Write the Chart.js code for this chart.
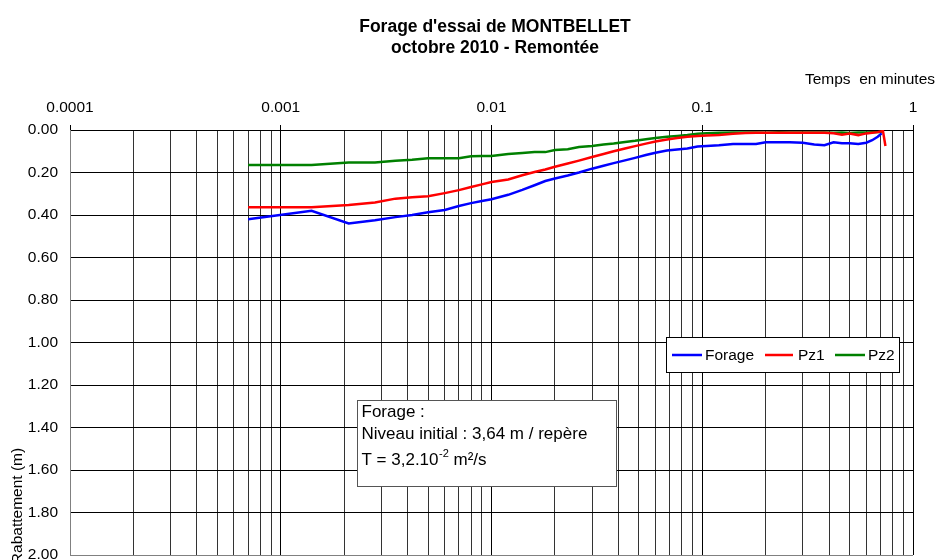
<!DOCTYPE html>
<html>
<head>
<meta charset="utf-8">
<script src="https://cdn.jsdelivr.net/npm/chart.js@4.4.1/dist/chart.umd.min.js"></script>
<style>
  body { margin: 0; background: #fff; }
</style>
</head>
<body>
<canvas id="myChart" width="937" height="560"></canvas>
<script>
// time since pump stop (minutes)
const times = [0.0007, 0.0014, 0.0021, 0.0028, 0.0035, 0.0042, 0.005, 0.006, 0.007, 0.008,
  0.009, 0.010, 0.012, 0.014, 0.016, 0.018, 0.020, 0.023, 0.026, 0.030,
  0.034, 0.038, 0.043, 0.048, 0.054, 0.060, 0.068, 0.076, 0.085, 0.095,
  0.105, 0.12, 0.14, 0.16, 0.18, 0.20, 0.23, 0.26, 0.30, 0.34,
  0.38, 0.42, 0.46, 0.50, 0.55, 0.60, 0.64, 0.68, 0.71, 0.72, 0.74];

// drawdown (m)
const forage = [0.42, 0.38, 0.44, 0.425, 0.41, 0.40, 0.387, 0.376, 0.358, 0.344,
  0.334, 0.326, 0.305, 0.282, 0.26, 0.24, 0.228, 0.214, 0.200, 0.182,
  0.168, 0.156, 0.143, 0.131, 0.118, 0.107, 0.097, 0.092, 0.087, 0.078,
  0.075, 0.072, 0.066, 0.066, 0.066, 0.058, 0.058, 0.058, 0.06, 0.068,
  0.072, 0.058, 0.062, 0.062, 0.066, 0.060, 0.048, 0.032, 0.016, null, null];
const pz1 = [0.364, 0.364, 0.353, 0.341, 0.323, 0.316, 0.312, 0.297, 0.283, 0.268,
  0.256, 0.245, 0.233, 0.213, 0.198, 0.186, 0.173, 0.158, 0.144, 0.127,
  0.113, 0.100, 0.087, 0.076, 0.064, 0.054, 0.045, 0.038, 0.032, 0.028,
  0.026, 0.024, 0.018, 0.014, 0.013, 0.013, 0.013, 0.013, 0.013, 0.013,
  0.013, 0.015, 0.022, 0.016, 0.024, 0.016, 0.013, 0.010, 0.006, 0.004, 0.075];
const pz2 = [0.165, 0.165, 0.153, 0.153, 0.145, 0.14, 0.133, 0.133, 0.133, 0.124,
  0.122, 0.122, 0.113, 0.108, 0.104, 0.104, 0.094, 0.091, 0.080, 0.075,
  0.068, 0.064, 0.056, 0.051, 0.044, 0.038, 0.032, 0.028, 0.024, 0.018,
  0.015, 0.013, 0.012, 0.012, 0.012, 0.013, 0.011, 0.012, 0.012, 0.012,
  0.012, 0.013, 0.012, 0.014, 0.012, 0.012, 0.011, 0.010, 0.009, 0.008, null];

const seriesNames = ['Forage', 'Pz1', 'Pz2'];
const seriesColors = ['#0000ff', '#ff0000', '#008000'];

const xMajors = [0.0001, 0.001, 0.01, 0.1, 1];
const xTickLabels = ['0.0001', '0.001', '0.01', '0.1', '1'];
const yTicks = [0, 0.2, 0.4, 0.6, 0.8, 1.0, 1.2, 1.4, 1.6, 1.8, 2.0];

const titleLines = ["Forage d'essai de MONTBELLET", 'octobre 2010 - Remontée'];
const xTitle = 'Temps  en minutes';
const yTitle = 'Rabattement (m)';
const noteLines = ['Forage :', 'Niveau initial : 3,64 m / repère'];
const noteT = ['T = 3,2.10', '-2', ' m²/s'];

const FONT = "'Liberation Sans', Arial, sans-serif";

function points(values) {
  const out = [];
  values.forEach((v, i) => { if (v !== null) out.push({ x: times[i], y: v }); });
  return out;
}

function majorIndex(v) {
  return xMajors.findIndex(m => Math.abs(m - v) / m < 1e-9);
}

// all 1..9 x 10^n gridlines
const xTickValues = [];
for (let i = 0; i < xMajors.length - 1; i++) {
  for (let k = 1; k <= 9; k++) xTickValues.push(k * xMajors[i]);
}
xTickValues.push(xMajors[xMajors.length - 1]);

const decorations = {
  id: 'decorations',
  afterDraw(chart) {
    const ctx = chart.ctx;
    ctx.save();
    ctx.fillStyle = '#000';

    // title
    ctx.font = 'bold 17.5px ' + FONT;
    ctx.textAlign = 'center';
    ctx.textBaseline = 'alphabetic';
    ctx.fillText(titleLines[0], 495, 31.5);
    ctx.fillText(titleLines[1], 495, 53);

    // axis titles
    ctx.font = '15.5px ' + FONT;
    ctx.textAlign = 'right';
    ctx.textBaseline = 'middle';
    ctx.fillText(xTitle, 935, 80);

    ctx.save();
    ctx.translate(18, 506);
    ctx.rotate(-Math.PI / 2);
    ctx.textAlign = 'center';
    ctx.fillText(yTitle, 0, 0);
    ctx.restore();

    // legend
    ctx.fillStyle = '#fff';
    ctx.fillRect(666.5, 337.5, 233, 35);
    ctx.strokeStyle = '#000';
    ctx.lineWidth = 1;
    ctx.strokeRect(666.5, 337.5, 233, 35);
    const items = [[672, 702, 705], [765, 793, 798], [835, 865, 868]];
    chart.data.datasets.forEach((ds, i) => {
      const it = items[i];
      ctx.strokeStyle = ds.borderColor;
      ctx.lineWidth = 2.5;
      ctx.beginPath();
      ctx.moveTo(it[0], 355);
      ctx.lineTo(it[1], 355);
      ctx.stroke();
      ctx.fillStyle = '#000';
      ctx.textAlign = 'left';
      ctx.textBaseline = 'middle';
      ctx.fillText(ds.label, it[2], 356);
    });

    // note box
    ctx.fillStyle = '#fff';
    ctx.fillRect(357.5, 400.5, 259, 86);
    ctx.strokeStyle = '#555';
    ctx.lineWidth = 1;
    ctx.strokeRect(357.5, 400.5, 259, 86);
    ctx.fillStyle = '#000';
    ctx.textAlign = 'left';
    ctx.textBaseline = 'alphabetic';
    ctx.font = '17px ' + FONT;
    ctx.fillText(noteLines[0], 361.5, 416.5);
    ctx.fillText(noteLines[1], 361.5, 439);
    let x = 361.5;
    ctx.fillText(noteT[0], x, 465);
    x += ctx.measureText(noteT[0]).width + 0.5;
    ctx.font = '11px ' + FONT;
    ctx.fillText(noteT[1], x, 457);
    x += ctx.measureText(noteT[1]).width;
    ctx.font = '17px ' + FONT;
    ctx.fillText(noteT[2], x, 465);

    ctx.restore();
  }
};

const ctx = document.getElementById('myChart').getContext('2d');
new Chart(ctx, {
  type: 'line',
  data: {
    datasets: [forage, pz1, pz2].map((vals, i) => ({
      label: seriesNames[i],
      data: points(vals),
      borderColor: seriesColors[i],
      backgroundColor: seriesColors[i],
      borderWidth: 2.5,
      pointRadius: 0,
      fill: false,
      tension: 0
    }))
  },
  options: {
    responsive: false,
    devicePixelRatio: 1,
    animation: false,
    layout: { padding: { top: 0, left: 0, right: 24, bottom: 5 } },
    plugins: { legend: { display: false }, title: { display: false }, tooltip: { enabled: false } },
    scales: {
      x: {
        type: 'logarithmic',
        position: 'top',
        min: 0.0001,
        max: 1,
        afterBuildTicks: scale => { scale.ticks = xTickValues.map(v => ({ value: v })); },
        afterFit: scale => {
          scale.height = 130;
          scale.paddingLeft = 0;
          scale.paddingRight = 0;
        },
        ticks: {
          autoSkip: false,
          maxRotation: 0,
          minRotation: 0,
          padding: 8,
          color: '#000',
          font: { family: FONT, size: 15.5 },
          callback: v => { const i = majorIndex(v); return i >= 0 ? xTickLabels[i] : ''; }
        },
        grid: {
          lineWidth: 1,
          tickLength: 5,
          color: c => (c.tick && majorIndex(c.tick.value) === 0) ? '#808080' : (c.tick && majorIndex(c.tick.value) > 0 ? '#000' : '#333'),
          tickColor: c => (c.tick && majorIndex(c.tick.value) >= 0) ? '#000' : 'rgba(0,0,0,0)'
        },
        border: { color: '#000', width: 1 }
      },
      y: {
        type: 'linear',
        reverse: true,
        min: 0,
        max: 2,
        afterBuildTicks: scale => { scale.ticks = yTicks.map(v => ({ value: v })); },
        afterFit: scale => {
          scale.width = 70;
          scale.paddingTop = 0;
          scale.paddingBottom = 0;
        },
        ticks: {
          padding: 12,
          color: '#000',
          font: { family: FONT, size: 15.5 },
          callback: v => Number(v).toFixed(2)
        },
        grid: {
          drawTicks: false,
          lineWidth: 1,
          color: c => (c.tick && c.tick.value === 2) ? '#808080' : '#000'
        },
        border: { color: '#808080', width: 1 }
      }
    }
  },
  plugins: [decorations]
});
</script>
</body>
</html>
